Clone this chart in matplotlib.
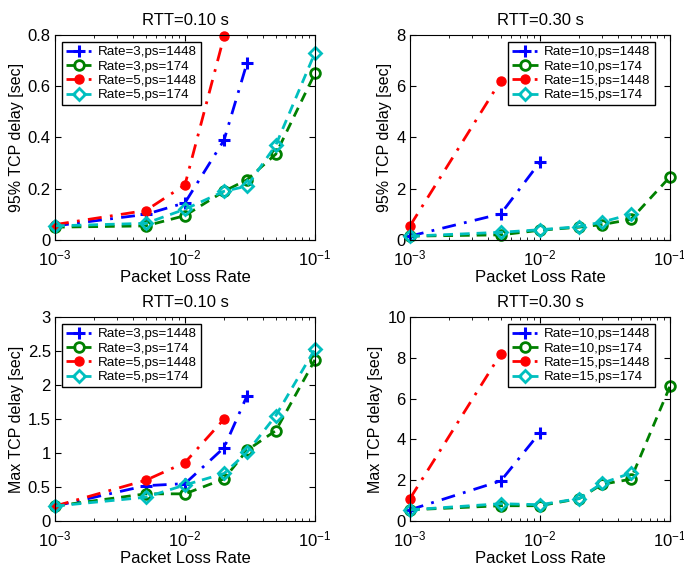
import matplotlib.pyplot as plt
from matplotlib.ticker import LogLocator, NullFormatter

plt.rcParams['font.family'] = ['Liberation Sans', 'DejaVu Sans']

# loss rates
x_all = [1e-3, 5e-3, 1e-2, 2e-2, 3e-2, 5e-2, 1e-1]

# RTT=0.10 s, 95% delay
p95_r3_1448 = [0.055, 0.10, 0.145, 0.39, 0.69]
p95_r3_174 = [0.05, 0.055, 0.095, 0.19, 0.235, 0.335, 0.65]
p95_r5_1448 = [0.06, 0.115, 0.215, 0.795]
p95_r5_174 = [0.055, 0.065, 0.12, 0.19, 0.21, 0.37, 0.73]

# RTT=0.30 s, 95% delay
p95_r10_1448 = [0.15, 1.02, 3.04]
p95_r10_174 = [0.15, 0.2, 0.38, 0.5, 0.6, 0.8, 2.46]
p95_r15_1448 = [0.55, 6.22]
p95_r15_174 = [0.15, 0.3, 0.4, 0.52, 0.7, 1.0]

# RTT=0.10 s, max delay
max_r3_1448 = [0.22, 0.52, 0.55, 1.08, 1.84]
max_r3_174 = [0.22, 0.4, 0.4, 0.62, 1.04, 1.33, 2.37]
max_r5_1448 = [0.22, 0.6, 0.86, 1.5]
max_r5_174 = [0.22, 0.35, 0.53, 0.7, 1.01, 1.55, 2.53]

# RTT=0.30 s, max delay
max_r10_1448 = [0.55, 1.97, 4.34]
max_r10_174 = [0.55, 0.75, 0.75, 1.1, 1.8, 2.05, 6.6]
max_r15_1448 = [1.1, 8.2]
max_r15_174 = [0.55, 0.85, 0.8, 1.1, 1.85, 2.35]

styles = [
    dict(color=(0, 0, 1), ls=(0, (5, 3, 1, 3)), marker='+', ms=8, mew=2.2),
    dict(color=(0, 0.5, 0), ls=(0, (3.5, 2.5)), marker='o', ms=7, mew=2,
         mfc='none'),
    dict(color=(1, 0, 0), ls=(0, (5, 3, 1, 3)), marker='o', ms=6.5, mew=1,
         mfc=(1, 0, 0)),
    dict(color=(0, 0.75, 0.75), ls=(0, (3.5, 2.5)), marker='D', ms=6.5,
         mew=2, mfc='none'),
]

panels = [
    ([0.0804, 0.5775, 0.380, 0.361], 'RTT=0.10 s', '95% TCP delay [sec]',
     [p95_r3_1448, p95_r3_174, p95_r5_1448, p95_r5_174],
     ['Rate=3,ps=1448', 'Rate=3,ps=174', 'Rate=5,ps=1448', 'Rate=5,ps=174'],
     (0, 0.8), [0, 0.2, 0.4, 0.6, 0.8], ['0', '0.2', '0.4', '0.6', '0.8'],
     'upper left', (0.027, 0.966)),
    ([0.5994, 0.5775, 0.380, 0.361], 'RTT=0.30 s', '95% TCP delay [sec]',
     [p95_r10_1448, p95_r10_174, p95_r15_1448, p95_r15_174],
     ['Rate=10,ps=1448', 'Rate=10,ps=174', 'Rate=15,ps=1448',
      'Rate=15,ps=174'],
     (0, 8), [0, 2, 4, 6, 8], ['0', '2', '4', '6', '8'],
     'upper right', (0.942, 0.966)),
    ([0.0804, 0.0827, 0.380, 0.359], 'RTT=0.10 s', 'Max TCP delay [sec]',
     [max_r3_1448, max_r3_174, max_r5_1448, max_r5_174],
     ['Rate=3,ps=1448', 'Rate=3,ps=174', 'Rate=5,ps=1448', 'Rate=5,ps=174'],
     (0, 3), [0, 0.5, 1, 1.5, 2, 2.5, 3],
     ['0', '0.5', '1', '1.5', '2', '2.5', '3'],
     'upper left', (0.027, 0.966)),
    ([0.5994, 0.0827, 0.380, 0.359], 'RTT=0.30 s', 'Max TCP delay [sec]',
     [max_r10_1448, max_r10_174, max_r15_1448, max_r15_174],
     ['Rate=10,ps=1448', 'Rate=10,ps=174', 'Rate=15,ps=1448',
      'Rate=15,ps=174'],
     (0, 10), [0, 2, 4, 6, 8, 10], ['0', '2', '4', '6', '8', '10'],
     'upper right', (0.942, 0.966)),
]

fig = plt.figure(figsize=(6.84, 5.68), dpi=100)

for rect, title, ylabel, series, labels, ylim, yt, ytl, loc, anchor in panels:
    ax = fig.add_axes(rect)
    for ys, lab, st in zip(series, labels, styles):
        ax.plot(x_all[:len(ys)], ys, lw=2, label=lab, clip_on=False, **st)
    ax.set_xscale('log')
    ax.set_xlim(1e-3, 1e-1)
    ax.set_ylim(*ylim)
    ax.set_yticks(yt)
    ax.set_yticklabels(ytl)
    ax.xaxis.set_minor_locator(LogLocator(base=10, subs=range(2, 10)))
    ax.xaxis.set_minor_formatter(NullFormatter())
    ax.tick_params(which='both', direction='in', top=True, right=True,
                   labelsize=12)
    ax.tick_params(axis='x', pad=6)
    ax.tick_params(axis='y', pad=3)
    ax.tick_params(which='major', length=4)
    ax.tick_params(which='minor', length=2)
    ax.set_title(title, fontsize=12, pad=7)
    ax.set_xlabel('Packet Loss Rate', fontsize=12, labelpad=1)
    ax.set_ylabel(ylabel, fontsize=11.5, labelpad=3)
    leg = ax.legend(loc=loc, bbox_to_anchor=anchor, fontsize=9.6,
                    handlelength=1.9, borderpad=0.3, labelspacing=0.15,
                    handletextpad=0.5, fancybox=False, borderaxespad=0,
                    framealpha=1)
    leg.get_frame().set_edgecolor('black')
    leg.get_frame().set_linewidth(1)

fig.savefig('out.png', dpi=100)
